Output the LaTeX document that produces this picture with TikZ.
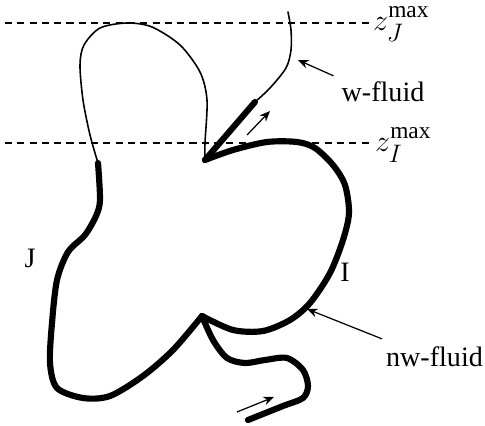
\documentclass[tikz,border=0pt]{standalone}
\usepackage{amsmath}
\usepackage{fontspec}
\setmainfont{Liberation Serif}
\usetikzlibrary{positioning,arrows.meta}
\tikzset{
  lbl/.style={font=\fontsize{16}{18}\selectfont, inner sep=1pt},
  lvl/.style={font=\fontsize{19}{21}\selectfont, inner sep=1pt, anchor=west},
  thinline/.style={line width=0.9pt, line join=round, line cap=round},
  thickline/.style={line width=3.5pt, line join=round, line cap=round},
  level/.style={dashed, dash pattern=on 4pt off 3pt, line width=0.6pt},
  pointer/.style={-{Stealth[length=6pt,width=5pt]}, line width=0.7pt}
}

\begin{document}
\begin{tikzpicture}[x=0.02cm,y=-0.02cm]
  \useasboundingbox (0,0) rectangle (485,426);
  % levels
  \node[lvl] (zJ) at (371,24) {$z_{J}^{\raisebox{1pt}{$\scriptstyle\text{max}$}}$};
  \node[lvl] (zI) at (373,145) {$z_{I}^{\raisebox{1pt}{$\scriptstyle\text{max}$}}$};
  \draw[level] (5,23) -- (zJ.west |- 0,23);
  \draw[level] (5,143) -- (zI.west |- 0,143);
  % labels
  \node[lbl] (J) at (30,258) {J};
  \node[lbl] (I) at (345,272) {I};
  \node[lbl] (wfl) at (383,92) {w-fluid};
  \node[lbl,anchor=east] (nwfl) at (485,357) {nw-fluid};
  \coordinate (wtip) at (298,60);
  \coordinate (nwtip) at (307,309);
  \draw[pointer] (wfl.north west) ++(-6,-4) coordinate (wstart) (wstart) -- (wtip);
  \draw[pointer] (nwfl.north west) ++(-2,-6) coordinate (nwstart) (nwstart) -- (nwtip);
  % throat points
  \coordinate (top) at (205,160);
  \coordinate (bot) at (202,316);
  % w-fluid branch
  \draw[thinline] plot[smooth] coordinates {(288,12) (291,30) (291,50) (286,68) (270,88) (255,102)};
  \draw[thickline] (255,102) -- (top);
  \draw[thinline] plot[smooth] coordinates {(top) (205,143) (207,100) (200,72) (180,45) (152,27) (127,23) (100,28) (84,45) (80,65) (83,100) (90,135) (98,163)};
  % nw-fluid
  \draw[thickline] plot[smooth] coordinates {(98,163) (100,200) (96,216) (85,235) (68,252) (57,280) (52,323) (50,363) (57,388) (83,398) (110,396) (143,376) (173,350) (bot)};
  \draw[thickline] plot[smooth] coordinates {(top) (233,150) (267,142) (297,142) (315,148) (333,165) (345,185) (349,213) (343,240) (330,273) (310,303) (290,320) (263,331) (233,330) (bot)};
  \draw[thickline] plot[smooth] coordinates {(bot) (213,340) (227,358) (245,363) (265,360) (287,358) (303,370) (308,386) (303,398) (283,406) (248,420)};
  % flow direction
  \coordinate (fa1) at (247,135);
  \coordinate (fa2) at (270,111);
  \coordinate (fb1) at (237,412);
  \coordinate (fb2) at (274,397);
  \draw[pointer] (fa1) -- (fa2);
  \draw[pointer] (fb1) -- (fb2);
\end{tikzpicture}
\end{document}
